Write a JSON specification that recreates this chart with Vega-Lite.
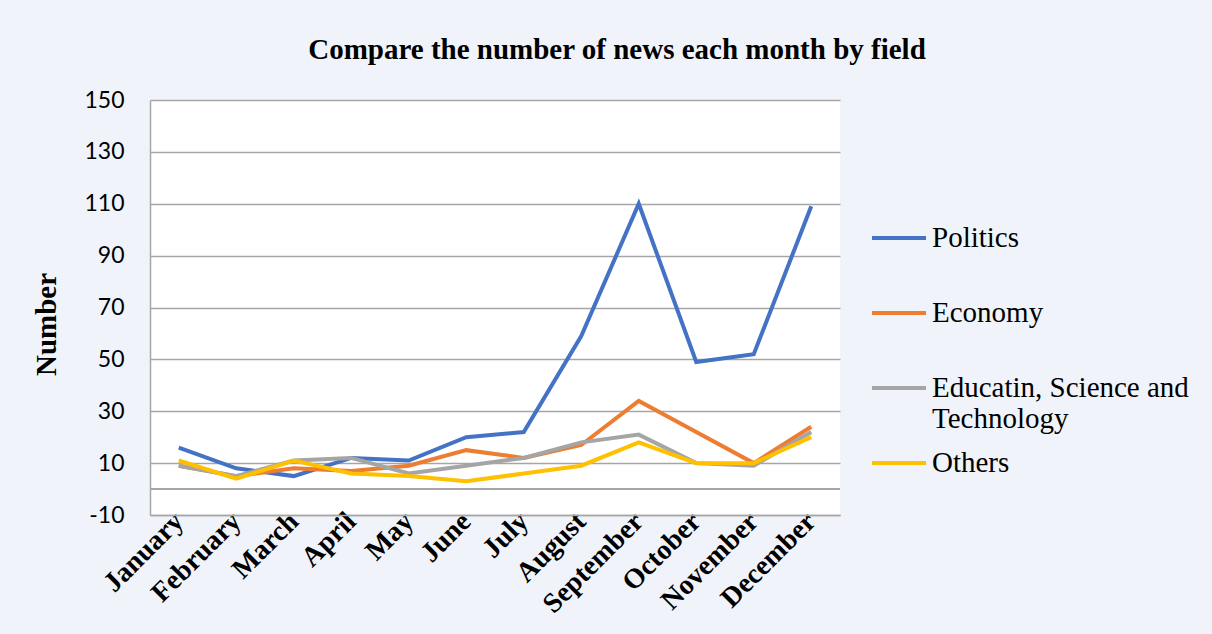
{
  "$schema": "https://vega.github.io/schema/vega-lite/v6.json",
  "autosize": "none",
  "width": 690,
  "height": 415,
  "padding": {"left": 150, "top": 100, "right": 372, "bottom": 119},
  "background": "#f0f4fa",
  "title": {
    "text": "Compare the number of news each month by field",
    "font": "Liberation Serif",
    "fontWeight": "bold",
    "fontSize": 29,
    "color": "#000000",
    "anchor": "middle",
    "dx": 122,
    "offset": 24
  },
  "config": {
    "view": {"fill": "#ffffff", "stroke": null}
  },
  "data": {
    "values": [
      {"month": "January", "field": "Politics", "value": 16},
      {"month": "February", "field": "Politics", "value": 8},
      {"month": "March", "field": "Politics", "value": 5},
      {"month": "April", "field": "Politics", "value": 12},
      {"month": "May", "field": "Politics", "value": 11},
      {"month": "June", "field": "Politics", "value": 20},
      {"month": "July", "field": "Politics", "value": 22},
      {"month": "August", "field": "Politics", "value": 59},
      {"month": "September", "field": "Politics", "value": 110},
      {"month": "October", "field": "Politics", "value": 49},
      {"month": "November", "field": "Politics", "value": 52},
      {"month": "December", "field": "Politics", "value": 109},
      {"month": "January", "field": "Economy", "value": 9},
      {"month": "February", "field": "Economy", "value": 5},
      {"month": "March", "field": "Economy", "value": 8},
      {"month": "April", "field": "Economy", "value": 7},
      {"month": "May", "field": "Economy", "value": 9},
      {"month": "June", "field": "Economy", "value": 15},
      {"month": "July", "field": "Economy", "value": 12},
      {"month": "August", "field": "Economy", "value": 17},
      {"month": "September", "field": "Economy", "value": 34},
      {"month": "October", "field": "Economy", "value": 22},
      {"month": "November", "field": "Economy", "value": 10},
      {"month": "December", "field": "Economy", "value": 24},
      {"month": "January", "field": "Educatin, Science and Technology", "value": 9},
      {"month": "February", "field": "Educatin, Science and Technology", "value": 5},
      {"month": "March", "field": "Educatin, Science and Technology", "value": 11},
      {"month": "April", "field": "Educatin, Science and Technology", "value": 12},
      {"month": "May", "field": "Educatin, Science and Technology", "value": 6},
      {"month": "June", "field": "Educatin, Science and Technology", "value": 9},
      {"month": "July", "field": "Educatin, Science and Technology", "value": 12},
      {"month": "August", "field": "Educatin, Science and Technology", "value": 18},
      {"month": "September", "field": "Educatin, Science and Technology", "value": 21},
      {"month": "October", "field": "Educatin, Science and Technology", "value": 10},
      {"month": "November", "field": "Educatin, Science and Technology", "value": 9},
      {"month": "December", "field": "Educatin, Science and Technology", "value": 22},
      {"month": "January", "field": "Others", "value": 11},
      {"month": "February", "field": "Others", "value": 4},
      {"month": "March", "field": "Others", "value": 11},
      {"month": "April", "field": "Others", "value": 6},
      {"month": "May", "field": "Others", "value": 5},
      {"month": "June", "field": "Others", "value": 3},
      {"month": "July", "field": "Others", "value": 6},
      {"month": "August", "field": "Others", "value": 9},
      {"month": "September", "field": "Others", "value": 18},
      {"month": "October", "field": "Others", "value": 10},
      {"month": "November", "field": "Others", "value": 10},
      {"month": "December", "field": "Others", "value": 20}
    ]
  },
  "layer": [
    {
      "mark": {"type": "rule", "color": "#a6a6a6", "strokeWidth": 1.5},
      "encoding": {"y": {"datum": 0, "type": "quantitative", "scale": {"domain": [-10, 150], "nice": false, "zero": false}}}
    },
    {
      "mark": {"type": "line", "strokeWidth": 4},
      "encoding": {
        "x": {
          "field": "month",
          "type": "ordinal",
          "sort": ["January","February","March","April","May","June","July","August","September","October","November","December"],
          "scale": {"type": "point", "padding": 0.5},
          "axis": {
            "title": null,
            "labelAngle": -45,
            "labelAlign": "right",
            "labelBaseline": "middle",
            "labelFont": "Liberation Serif",
            "labelFontWeight": "bold",
            "labelFontSize": 28,
            "labelColor": "#000000",
            "labelPadding": 2,
            "ticks": false,
            "domainColor": "#a6a6a6",
            "domainWidth": 1.5,
            "grid": false
          }
        },
        "y": {
          "field": "value",
          "type": "quantitative",
          "scale": {"domain": [-10, 150], "nice": false, "zero": false},
          "axis": {
            "values": [-10, 10, 30, 50, 70, 90, 110, 130, 150],
            "labelExpr": "toString(datum.value)",
            "grid": true,
            "title": "Number",
            "titleFont": "Liberation Serif",
            "titleFontWeight": "bold",
            "titleFontSize": 29,
            "titleColor": "#000000",
            "titleX": -89,
            "titleY": 224,
            "labelFont": "Lato",
            "labelFontSize": 23,
            "labelColor": "#000000",
            "labelPadding": 26,
            "ticks": false,
            "domainColor": "#a6a6a6",
            "domainWidth": 1.5,
            "gridColor": "#a6a6a6",
            "gridWidth": 1.5
          }
        },
        "color": {
          "field": "field",
          "type": "nominal",
          "scale": {
            "domain": ["Politics", "Economy", "Educatin, Science and Technology", "Others"],
            "range": ["#4472C4", "#ED7D31", "#A5A5A5", "#FFC000"]
          },
          "legend": {
            "title": null,
            "orient": "none",
            "legendX": 720,
            "legendY": 109,
            "symbolType": "stroke",
            "symbolSize": 2916,
            "symbolStrokeWidth": 4,
            "labelFont": "Liberation Serif",
            "labelFontSize": 29,
            "labelColor": "#000000",
            "labelOffset": 4,
            "labelLimit": 400,
            "gridAlign": "all",
            "rowPadding": 0,
            "labelExpr": "datum.label == 'Educatin, Science and Technology' ? ['Educatin, Science and', 'Technology'] : datum.label"
          }
        }
      }
    }
  ]
}
